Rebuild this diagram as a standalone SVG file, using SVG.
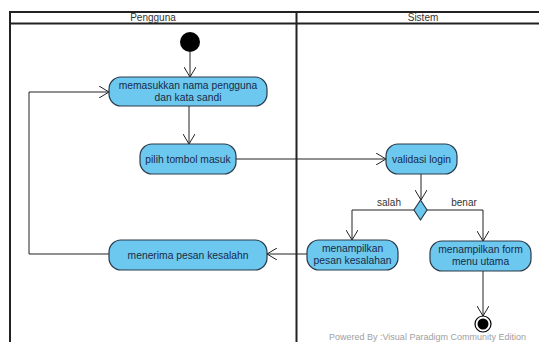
<svg xmlns="http://www.w3.org/2000/svg" width="539" height="342" viewBox="0 0 539 342">
<style>
.frame{stroke:#222;stroke-width:2;fill:none}
.hdr{font-family:"Liberation Sans",Arial,sans-serif;font-size:10px;fill:#333;text-anchor:middle}
.act{fill:#6CC8EE;stroke:#2a3a4a;stroke-width:1.2}
.t{font-family:"Liberation Sans",Arial,sans-serif;font-size:10.3px;fill:#1a2a48;text-anchor:middle}
.c{stroke:#222;stroke-width:1;fill:none}
.lbl{font-family:"Liberation Sans",Arial,sans-serif;font-size:10px;fill:#333;text-anchor:middle}
.wm{font-family:"Liberation Sans",Arial,sans-serif;font-size:9px;fill:#a0a0a0}
</style>
<defs>
<marker id="arr" viewBox="0 0 10 12" refX="10" refY="6" markerWidth="10" markerHeight="12" markerUnits="userSpaceOnUse" orient="auto">
<path d="M0,0 L10,6 L0,12" fill="none" stroke="#222" stroke-width="1"/>
</marker>
</defs>
<rect width="539" height="342" fill="#fff"/>
<g id="swimlanes">
<line class="frame" x1="10" y1="12" x2="539" y2="12"/>
<line class="frame" x1="10" y1="23.5" x2="539" y2="23.5"/>
<line class="frame" x1="10" y1="11" x2="10" y2="342"/>
<line class="frame" x1="296.5" y1="11" x2="296.5" y2="342"/>
<text class="hdr" x="153" y="20.5">Pengguna</text>
<text class="hdr" x="423" y="20.5">Sistem</text>
</g>
<g id="connectors">
<line class="c" x1="190" y1="52" x2="190" y2="77" marker-end="url(#arr)"/>
<line class="c" x1="189" y1="106" x2="189" y2="144" marker-end="url(#arr)"/>
<line class="c" x1="236" y1="159" x2="386" y2="159" marker-end="url(#arr)"/>
<line class="c" x1="421" y1="174" x2="421" y2="200" marker-end="url(#arr)"/>
<polyline class="c" points="414,210 352,210 352,240" marker-end="url(#arr)"/>
<polyline class="c" points="427,210 483,210 483,241" marker-end="url(#arr)"/>
<line class="c" x1="307" y1="254" x2="267" y2="254" marker-end="url(#arr)"/>
<polyline class="c" points="109,254 29,254 29,92 109,92" marker-end="url(#arr)"/>
<line class="c" x1="483" y1="271" x2="483" y2="316" marker-end="url(#arr)"/>
<text class="lbl" x="389" y="206">salah</text>
<text class="lbl" x="464" y="206">benar</text>
</g>
<g id="start"><circle cx="190" cy="42" r="10" fill="#000"/></g>
<g id="masukkan">
<rect class="act" x="109" y="77" width="158" height="29" rx="12"/>
<text class="t" x="188" y="89">memasukkan nama pengguna</text>
<text class="t" x="188" y="101">dan kata sandi</text>
</g>
<g id="pilih">
<rect class="act" x="140" y="144" width="96" height="30" rx="12"/>
<text class="t" x="188" y="162.5">pilih tombol masuk</text>
</g>
<g id="validasi">
<rect class="act" x="386" y="144" width="71" height="30" rx="12"/>
<text class="t" x="421.5" y="162.5">validasi login</text>
</g>
<g id="decision"><polygon points="420.5,200 427,210 420.5,220 414,210" fill="#6CC8EE" stroke="#2a3a4a" stroke-width="1.2"/></g>
<g id="tampil-salah">
<rect class="act" x="307" y="240" width="91" height="30" rx="12"/>
<text class="t" x="352.5" y="252">menampilkan</text>
<text class="t" x="352.5" y="264">pesan kesalahan</text>
</g>
<g id="tampil-menu">
<rect class="act" x="430" y="241" width="101" height="30" rx="12"/>
<text class="t" x="480.5" y="253">menampilkan form</text>
<text class="t" x="480.5" y="265">menu utama</text>
</g>
<g id="menerima">
<rect class="act" x="109" y="240" width="158" height="30" rx="12"/>
<text class="t" x="188" y="258.5">menerima pesan kesalahn</text>
</g>
<g id="end">
<circle cx="483" cy="324" r="8" fill="#fff" stroke="#000" stroke-width="1.2"/>
<circle cx="483" cy="324" r="5.5" fill="#000"/>
</g>
<text class="wm" x="329" y="340">Powered By :Visual Paradigm Community Edition</text>
</svg>
